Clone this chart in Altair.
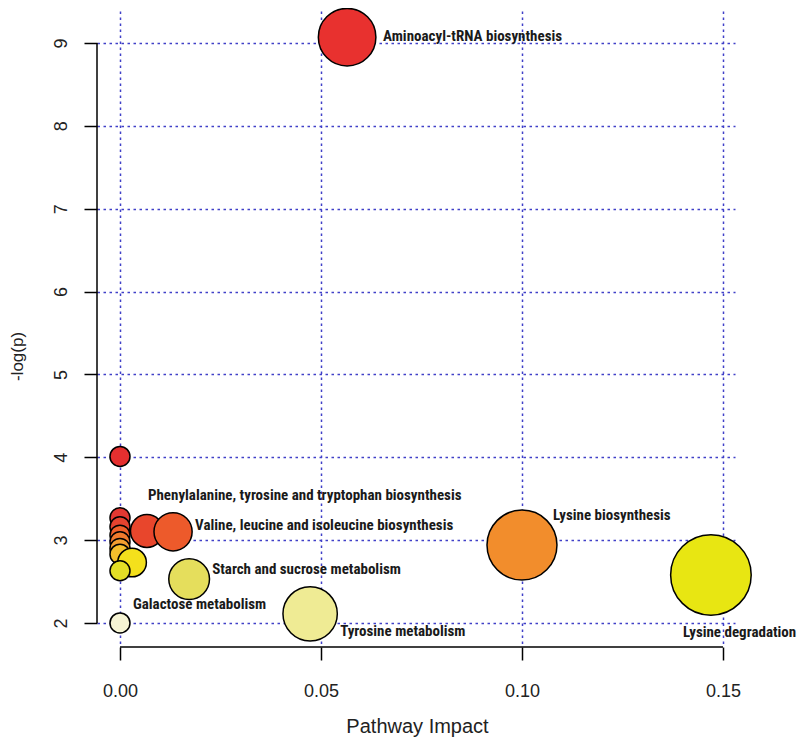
import altair as alt
import pandas as pd

# ---- data ----
pathways = [
    "Aminoacyl-tRNA biosynthesis", "", "", "",
    "Phenylalanine, tyrosine and tryptophan biosynthesis",
    "Valine, leucine and isoleucine biosynthesis",
    "", "", "Lysine biosynthesis", "", "", "", "",
    "Lysine degradation", "Starch and sucrose metabolism",
    "Tyrosine metabolism", "Galactose metabolism",
]
impact = [0.0565, 0.0, 0.0, 0.0, 0.0067, 0.0132, 0.0, 0.0, 0.100, 0.0, 0.0,
          0.003, 0.0, 0.147, 0.0172, 0.0473, 0.0]
neglogp = [9.07, 4.01, 3.27, 3.16, 3.11, 3.10, 3.06, 2.98, 2.94, 2.90, 2.83,
           2.73, 2.63, 2.58, 2.53, 2.11, 2.00]
fill_colors = ["#E8312F", "#E42F2F", "#E33832", "#E5432F", "#E8462C", "#ED5A2B",
               "#EE602A", "#F07A2D", "#F28D2C", "#F29E30", "#F4BE2C", "#F4E01C",
               "#E3DE26", "#E8E612", "#E5DE5C", "#EFEB94", "#F6F4D4"]
x_ticks = [0.0, 0.05, 0.10, 0.15]
y_ticks = [2, 3, 4, 5, 6, 7, 8, 9]

ids = [f"P{i:02d}" for i in range(len(impact))]
df = pd.DataFrame({"id": ids, "pathway": pathways, "impact": impact, "neglogp": neglogp})

# label placement (pixel offsets from circle centre)
label_offsets = {
    "Aminoacyl-tRNA biosynthesis": (36, -1),
    "Phenylalanine, tyrosine and tryptophan biosynthesis": (1, -36),
    "Valine, leucine and isoleucine biosynthesis": (22, -7),
    "Lysine biosynthesis": (31, -30),
    "Lysine degradation": (-28, 57),
    "Starch and sucrose metabolism": (23, -10),
    "Tyrosine metabolism": (30, 17),
    "Galactose metabolism": (13, -19),
}

W, H = 638, 636
xscale = alt.Scale(domain=[-0.00572, 0.15299], nice=False, zero=False)
yscale = alt.Scale(domain=[1.710, 9.386], nice=False, zero=False)

GRID = "#4040C8"
AXFONT = "Liberation Sans"
LBLFONT = "Liberation Sans Narrow, Roboto Condensed, DejaVu Sans Condensed, Arial Narrow, sans-serif"

x_axis = alt.Axis(values=x_ticks, format=".2f", domain=False, tickSize=13, tickWidth=1.5,
                  tickColor="black", labelFont=AXFONT, labelFontSize=18, labelColor="#222",
                  labelPadding=22, grid=True, gridColor=GRID, gridDash=[2.5, 3.5],
                  gridWidth=1.5, title="Pathway Impact", titleFont=AXFONT,
                  titleFontSize=20, titleFontWeight="normal", titleColor="#222",
                  titleX=320, titleY=79, titleBaseline="middle", titleAlign="center")
y_axis = alt.Axis(values=y_ticks, format="d", domain=False, tickSize=13, tickWidth=1.5,
                  tickColor="black", labelFont=AXFONT, labelFontSize=18, labelColor="#222",
                  labelAngle=270, labelAlign="center", labelBaseline="alphabetic",
                  labelPadding=18, grid=True, gridColor=GRID, gridDash=[2.5, 3.5],
                  gridWidth=1.5, title="-log(p)", titleFont=AXFONT, titleFontSize=17,
                  titleFontWeight="normal", titleColor="#222", titleAngle=270,
                  titleX=-80, titleY=345, titleBaseline="middle", titleAlign="center")

base = alt.Chart(df)

points = base.mark_circle(stroke="black", strokeWidth=1.5, opacity=1).transform_calculate(
    radius="10 + 79 * sqrt(datum.impact)"
).encode(
    x=alt.X("impact:Q", scale=xscale, axis=x_axis),
    y=alt.Y("neglogp:Q", scale=yscale, axis=y_axis),
    color=alt.Color("id:N", scale=alt.Scale(domain=ids, range=fill_colors), legend=None),
    size=alt.Size("radius:Q", scale=alt.Scale(type="pow", exponent=2, domain=[0, 50],
                                              range=[0, 10000]), legend=None),
)

one = alt.Data(values=[{}])
y_line = alt.Chart(one).mark_rule(color="black", strokeWidth=1.5).encode(
    x=alt.value(0), y=alt.datum(2, scale=yscale), y2=alt.datum(9))
x_line = alt.Chart(one).mark_rule(color="black", strokeWidth=1.5).encode(
    y=alt.value(H), x=alt.datum(0, scale=xscale), x2=alt.datum(0.15))

labels = []
for name, (dx, dy) in label_offsets.items():
    labels.append(
        base.transform_filter(alt.datum.pathway == name).mark_text(
            align="left", baseline="middle", dx=dx, dy=dy, font=LBLFONT,
            fontSize=15, fontWeight="bold", color="#1a1a1a"
        ).encode(x=alt.X("impact:Q", scale=xscale), y=alt.Y("neglogp:Q", scale=yscale),
                 text="pathway:N")
    )

chart = alt.layer(points, y_line, x_line, *labels).properties(
    width=W, height=H,
    background="white",
    padding={"left": 89, "top": 3, "right": 63, "bottom": 93},
    autosize=alt.AutoSizeParams(type="none"),
).configure_view(strokeWidth=0, stroke="transparent")

chart.save("out.html", embed_options={"renderer": "svg", "actions": False})
